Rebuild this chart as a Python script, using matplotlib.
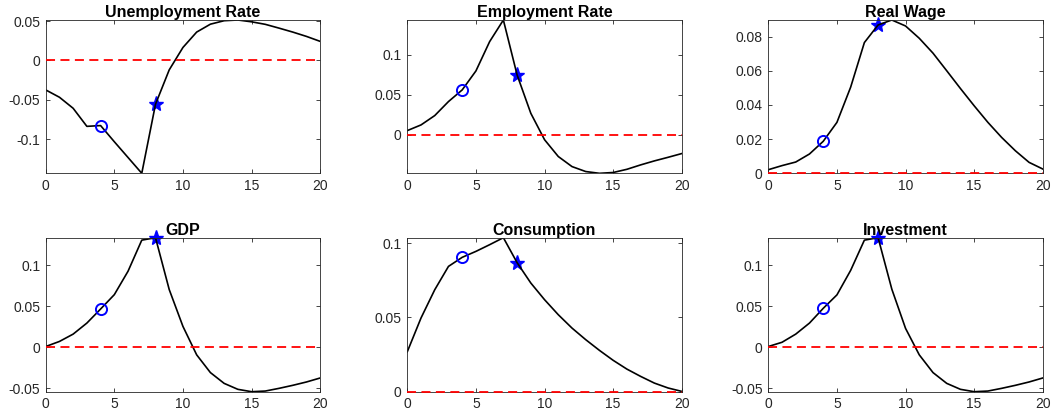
import matplotlib
matplotlib.use("Agg")
import matplotlib.pyplot as plt
import numpy as np

plt.rcParams["font.family"] = ["Liberation Sans", "DejaVu Sans"]

periods = np.arange(21)

unemployment = [-0.0373, -0.0466, -0.0606, -0.0835, -0.0825, -0.103, -0.123, -0.143,
                -0.0555, -0.0119, 0.0165, 0.036, 0.046, 0.0504, 0.0513, 0.049,
                0.0458, 0.041, 0.036, 0.0305, 0.0242]
employment = [0.0054, 0.0125, 0.0242, 0.0417, 0.0563, 0.080, 0.1167, 0.1437,
              0.075, 0.027, -0.006, -0.027, -0.0396, -0.0458, -0.048, -0.047,
              -0.043, -0.0375, -0.0325, -0.028, -0.0233]
real_wage = [0.0021, 0.0045, 0.0066, 0.0113, 0.0187, 0.0298, 0.0504, 0.0765,
             0.0868, 0.0897, 0.0862, 0.079, 0.0703, 0.060, 0.0496, 0.0395,
             0.0298, 0.021, 0.0132, 0.0064, 0.0025]
gdp = [0.0008, 0.007, 0.016, 0.0295, 0.0467, 0.0643, 0.093, 0.131,
       0.134, 0.0705, 0.0254, -0.0094, -0.0311, -0.0443, -0.0516, -0.0545,
       -0.0537, -0.0504, -0.0467, -0.0426, -0.0377]
consumption = [0.0269, 0.0496, 0.0686, 0.0843, 0.0904, 0.0944, 0.0989, 0.1036,
               0.0868, 0.0731, 0.0619, 0.0518, 0.0428, 0.035, 0.0278, 0.0211,
               0.0152, 0.0103, 0.0058, 0.0025, 0.0002]
investment = [0.0008, 0.006, 0.016, 0.0295, 0.0475, 0.064, 0.094, 0.131,
              0.134, 0.071, 0.023, -0.0094, -0.0311, -0.0443, -0.0516, -0.0545,
              -0.0537, -0.0504, -0.0467, -0.0426, -0.0377]

titles = ["Unemployment Rate", "Employment Rate", "Real Wage",
          "GDP", "Consumption", "Investment"]
series = [unemployment, employment, real_wage, gdp, consumption, investment]
yticks = [[-0.1, -0.05, 0, 0.05], [0, 0.05, 0.1], [0, 0.02, 0.04, 0.06, 0.08],
          [-0.05, 0, 0.05, 0.1], [0, 0.05, 0.1], [-0.05, 0, 0.05, 0.1]]
circle_at = 4
star_at = 8

fig = plt.figure(figsize=(10.54, 4.18), dpi=100)
lefts = [45.7, 407.3, 768.3]
rows = [(20.0, 173.3), (237.7, 391.7)]
W, H = 1054.0, 418.0
axes_w = 274.5
grey = (0.15, 0.15, 0.15)

for i, (title, y) in enumerate(zip(titles, series)):
    r, c = divmod(i, 3)
    top, bottom = rows[r]
    ax = fig.add_axes([lefts[c] / W, 1 - bottom / H, axes_w / W, (bottom - top) / H])
    y = np.asarray(y)
    ax.plot(periods, y, color="black", linewidth=1.2, zorder=2)
    ax.plot(periods[circle_at], y[circle_at], marker="o", markersize=8,
            markerfacecolor="none", markeredgecolor="blue", markeredgewidth=1.4,
            linestyle="none", zorder=3)
    ax.plot(periods[star_at], y[star_at], marker="*", markersize=11,
            color="blue", linestyle="none", zorder=1.5, clip_on=False)
    lo = min(0.0, y.min())
    hi = max(0.0, y.max())
    ax.set_xlim(0, 20)
    ax.set_ylim(lo, hi)
    # zero line, kept visible even where it lies on the axes edge
    ax.axhline(0, color="red", linestyle=(0, (5, 3)), linewidth=1.3,
               zorder=4, clip_on=False)
    ax.set_xticks([0, 5, 10, 15, 20])
    ax.set_yticks(yticks[i])
    ax.set_yticklabels([f"{v:g}" for v in yticks[i]])
    ax.tick_params(direction="in", top=True, right=True, length=3, width=0.6,
                   colors=grey, labelsize=10, labelcolor=grey, pad=4)
    for s in ax.spines.values():
        s.set_color(grey)
        s.set_linewidth(0.6)
    ax.set_title(title, fontsize=11.5, fontweight="bold", pad=2)

fig.savefig("out.png", dpi=100)
